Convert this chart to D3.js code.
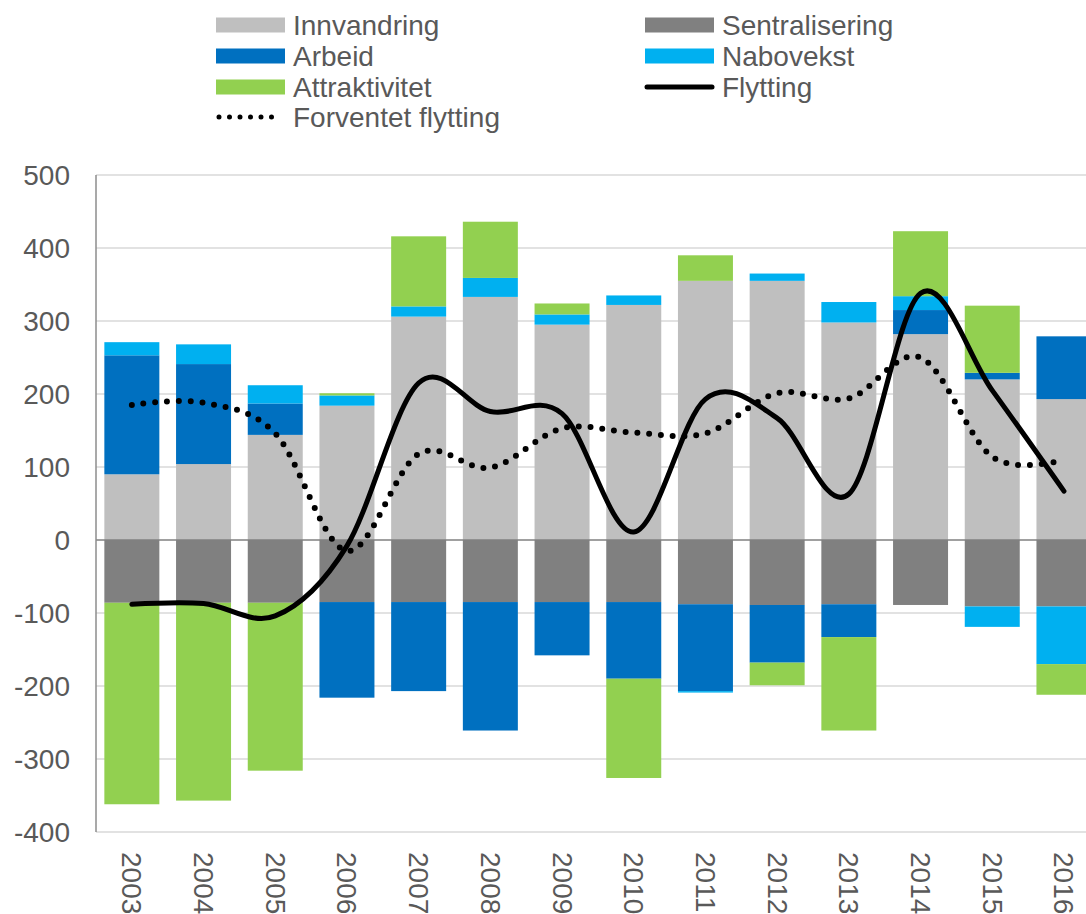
<!DOCTYPE html>
<html>
<head>
<meta charset="utf-8">
<script src="https://cdn.jsdelivr.net/npm/d3@7"></script>
<style>
  html, body { margin: 0; padding: 0; background: #fff; }
  svg { display: block; font-family: "Liberation Sans", Arial, sans-serif; }
</style>
</head>
<body>
<svg id="chart" width="1086" height="914"></svg>
<script>
// --- data ---
const years = ["2003", "2004", "2005", "2006", "2007", "2008", "2009", "2010", "2011", "2012", "2013", "2014", "2015", "2016"];

const innvandring    = [90, 104, 144, 184, 306, 333, 295, 322, 355, 355, 298, 282, 220, 193];
const sentralisering = [-86, -86, -86, -85, -85, -85, -85, -85, -88, -89, -88, -89, -91, -91];
const arbeid         = [163, 137, 43, -131, -122, -176, -73, -105, -119, -79, -45, 33, 9, 86];
const nabovekst      = [18, 27, 25, 14, 14, 26, 14, 13, -2, 10, 28, 19, -28, -79];
const attraktivitet  = [-276, -271, -230, 3, 96, 77, 15, -136, 35, -31, -128, 89, 92, -42];

const flytting  = [-88, -87, -104, -8, 215, 176, 173, 11, 193, 167, 63, 338, 205, 67];
const forventet = [185, 188, 146, -15, 118, 99, 153, 147, 146, 201, 194, 250, 114, 110];

const yTicks = [500, 400, 300, 200, 100, 0, -100, -200, -300, -400];

const seriesKeys = ["Innvandring", "Sentralisering", "Arbeid", "Nabovekst", "Attraktivitet"];
const seriesColors = {
    Innvandring: "#BFBFBF",
    Sentralisering: "#808080",
    Arbeid: "#0070C0",
    Nabovekst: "#00B0F0",
    Attraktivitet: "#92D050"
};

// table for d3.stack
const table = years.map((year, i) => ({
    year,
    Innvandring: innvandring[i],
    Sentralisering: sentralisering[i],
    Arbeid: arbeid[i],
    Nabovekst: nabovekst[i],
    Attraktivitet: attraktivitet[i]
}));

// --- layout ---
const svg = d3.select("#chart");
const plotLeft = 96, step = 71.7;
const textColor = "#595959";
const fontSize = 28;

const x = d3.scaleBand()
    .domain(years)
    .range([plotLeft, plotLeft + step * years.length])
    .paddingInner(0.233)
    .paddingOuter(0.1165);

const y = d3.scaleLinear()
    .domain([-400, 500])
    .range([832, 175]);

const xRight = plotLeft + step * years.length;

// gridlines
svg.append("g")
    .selectAll("line")
    .data(yTicks.filter(d => d !== 0))
    .join("line")
    .attr("x1", plotLeft)
    .attr("x2", xRight)
    .attr("y1", d => y(d))
    .attr("y2", d => y(d))
    .attr("stroke", "#D9D9D9")
    .attr("stroke-width", 1.5);

// y axis labels
svg.append("g")
    .selectAll("text")
    .data(yTicks)
    .join("text")
    .attr("x", 70)
    .attr("y", d => y(d))
    .attr("text-anchor", "end")
    .attr("dominant-baseline", "central")
    .attr("fill", textColor)
    .style("font-size", fontSize + "px")
    .text(d => d);

// stacked bars
const stack = d3.stack()
    .keys(seriesKeys)
    .offset(d3.stackOffsetDiverging);

const stacked = stack(table);

svg.append("g")
    .selectAll("g")
    .data(stacked)
    .join("g")
    .attr("fill", d => seriesColors[d.key])
    .selectAll("rect")
    .data(d => d)
    .join("rect")
    .attr("x", d => x(d.data.year))
    .attr("width", x.bandwidth())
    .attr("y", d => y(Math.max(d[0], d[1])))
    .attr("height", d => Math.abs(y(d[0]) - y(d[1])));

// axis lines
svg.append("line")
    .attr("x1", plotLeft).attr("x2", xRight)
    .attr("y1", y(0)).attr("y2", y(0))
    .attr("stroke", "#808080")
    .attr("stroke-width", 1.5);

svg.append("line")
    .attr("x1", plotLeft).attr("x2", plotLeft)
    .attr("y1", y(500)).attr("y2", y(-400))
    .attr("stroke", "#8C8C8C")
    .attr("stroke-width", 1.5);

// x labels, rotated
svg.append("g")
    .selectAll("text")
    .data(years)
    .join("text")
    .attr("transform", d => `translate(${x(d) + x.bandwidth() / 2}, 852) rotate(90)`)
    .attr("text-anchor", "start")
    .attr("dominant-baseline", "central")
    .attr("fill", textColor)
    .style("font-size", fontSize + "px")
    .text(d => d);

// lines
const lineGen = d3.line()
    .x((d, i) => x(years[i]) + x.bandwidth() / 2)
    .y(d => y(d))
    .curve(d3.curveCatmullRom.alpha(0));

svg.append("path")
    .attr("d", lineGen(forventet))
    .attr("fill", "none")
    .attr("stroke", "#000")
    .attr("stroke-width", 6)
    .attr("stroke-linecap", "round")
    .attr("stroke-dasharray", "0 11.8");

svg.append("path")
    .attr("d", lineGen(flytting))
    .attr("fill", "none")
    .attr("stroke", "#000")
    .attr("stroke-width", 5)
    .attr("stroke-linecap", "round")
    .attr("stroke-linejoin", "round");

// --- legend ---
const legendItems = [
    { name: "Innvandring", type: "rect", col: 0, row: 0 },
    { name: "Sentralisering", type: "rect", col: 1, row: 0 },
    { name: "Arbeid", type: "rect", col: 0, row: 1 },
    { name: "Nabovekst", type: "rect", col: 1, row: 1 },
    { name: "Attraktivitet", type: "rect", col: 0, row: 2 },
    { name: "Flytting", type: "line", col: 1, row: 2 },
    { name: "Forventet flytting", type: "dots", col: 0, row: 3 }
];
const colX = [216, 645];
const rowY = [25, 56, 87, 117];
const swatchW = 69;

const legend = svg.append("g");
legendItems.forEach(item => {
    const g = legend.append("g")
        .attr("transform", `translate(${colX[item.col]}, ${rowY[item.row]})`);
    if (item.type === "rect") {
        g.append("rect")
            .attr("x", 0).attr("y", -7.5)
            .attr("width", swatchW).attr("height", 15)
            .attr("fill", seriesColors[item.name]);
    } else if (item.type === "line") {
        g.append("line")
            .attr("x1", 2).attr("x2", swatchW - 2)
            .attr("y1", 0).attr("y2", 0)
            .attr("stroke", "#000")
            .attr("stroke-width", 5)
            .attr("stroke-linecap", "round");
    } else {
        g.append("line")
            .attr("x1", 3).attr("x2", swatchW - 3)
            .attr("y1", 0).attr("y2", 0)
            .attr("stroke", "#000")
            .attr("stroke-width", 5)
            .attr("stroke-linecap", "round")
            .attr("stroke-dasharray", "0 10.5");
    }
    g.append("text")
        .attr("x", swatchW + 8)
        .attr("y", 0)
        .attr("dominant-baseline", "central")
        .attr("fill", textColor)
        .style("font-size", fontSize + "px")
        .text(item.name);
});
</script>
</body>
</html>
